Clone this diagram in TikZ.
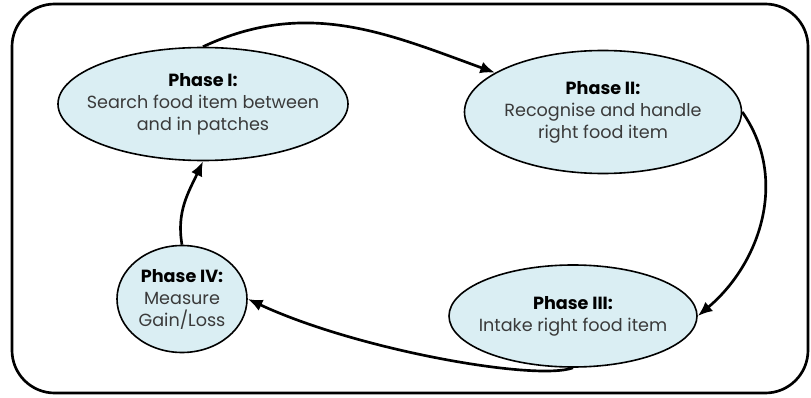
\documentclass[tikz,border=0pt]{standalone}
\usepackage{fontspec}
\setmainfont{Poppins}
\usepackage{xcolor}
\usetikzlibrary{shapes.geometric,arrows.meta}

\definecolor{phasefill}{HTML}{DAEEF3}
\definecolor{phasetext}{HTML}{3A3A3A}

\begin{document}
\begin{tikzpicture}[x=0.75pt, y=0.75pt,
    phase/.style={ellipse, draw=black, line width=1.2pt, fill=phasefill, inner sep=0pt},
    phaselabel/.style={align=center, font=\fontsize{13.2}{16.5}\selectfont, text=phasetext},
    flow/.style={line width=2pt, -{Latex[length=11pt, width=9pt]}}]

    % Canvas
    \useasboundingbox (0, 0) rectangle (811, 397);

    % Frame
    \draw[line width=2pt, rounded corners=32pt] (12, 4) rectangle (808, 393);

    % Phases
    \node[phase, minimum width=217.5pt, minimum height=84.75pt] (p1) at (203, 293) {};
    \node[phase, minimum width=207.75pt, minimum height=92.25pt] (p2) at (603, 285) {};
    \node[phase, minimum width=186pt, minimum height=76.5pt] (p3) at (573, 81) {};
    \node[phase, minimum width=97.5pt, minimum height=80.25pt] (p4) at (182, 98) {};

    % Labels
    \node[phaselabel] (p1label) at (p1) {\textbf{\color{black}Phase I:}\\Search food item between\\and in patches};
    \node[phaselabel] (p2label) at (p2) {\textbf{\color{black}Phase II:}\\Recognise and handle\\right food item};
    \node[phaselabel] (p3label) at (p3) {\textbf{\color{black}Phase III:}\\Intake right food item};
    \node[phaselabel] (p4label) at (p4) {\textbf{\color{black}Phase IV:}\\Measure\\Gain/Loss};

    % Cycle
    \draw[flow] (p1.north) to[out=25, in=160] (p2.160);
    \draw[flow] (p2.east) to[out=-55, in=40] (p3.east);
    \draw[flow] (p3.south) .. controls +(200:40) and +(-25:120) .. (p4.east);
    \draw[flow] (p4.north) to[out=100, in=-115] (p1.south);

\end{tikzpicture}
\end{document}
